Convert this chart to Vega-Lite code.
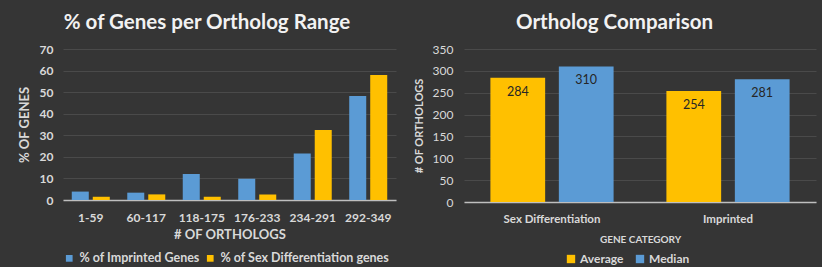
{
  "$schema": "https://vega.github.io/schema/vega-lite/v6.json",
  "background": "#353535",
  "padding": {"left": 18, "top": 12, "right": 6, "bottom": 2},
  "spacing": 17,
  "resolve": {"scale": {"color": "independent", "xOffset": "independent", "x": "independent", "y": "independent"}, "legend": {"color": "independent"}},
  "config": {
    "font": "Lato",
    "view": {"stroke": null},
    "axis": {"labelColor": "#d9d9d9", "titleColor": "#d9d9d9", "gridColor": "#4a4a4a", "domainColor": "#bfbfbf", "ticks": false, "labelFont": "Lato", "titleFont": "Lato"},
    "title": {"color": "#f2f2f2", "font": "Lato", "fontWeight": "bold", "fontSize": 20.5, "anchor": "middle", "frame": "bounds"},
    "legend": {"labelColor": "#d9d9d9", "labelFont": "Lato", "labelFontWeight": "bold", "symbolType": "square", "symbolStrokeWidth": 0, "labelLimit": 300}
  },
  "hconcat": [
    {
      "title": {"text": "% of Genes per Ortholog Range", "offset": 10},
      "width": 333,
      "height": 151,
      "data": {"values": [
        {"range": "1-59", "series": "% of Imprinted Genes", "value": 3.9},
        {"range": "1-59", "series": "% of Sex Differentiation genes", "value": 1.5},
        {"range": "60-117", "series": "% of Imprinted Genes", "value": 3.4},
        {"range": "60-117", "series": "% of Sex Differentiation genes", "value": 2.6},
        {"range": "118-175", "series": "% of Imprinted Genes", "value": 12.1},
        {"range": "118-175", "series": "% of Sex Differentiation genes", "value": 1.5},
        {"range": "176-233", "series": "% of Imprinted Genes", "value": 9.8},
        {"range": "176-233", "series": "% of Sex Differentiation genes", "value": 2.6},
        {"range": "234-291", "series": "% of Imprinted Genes", "value": 21.5},
        {"range": "234-291", "series": "% of Sex Differentiation genes", "value": 32.5},
        {"range": "292-349", "series": "% of Imprinted Genes", "value": 48.2},
        {"range": "292-349", "series": "% of Sex Differentiation genes", "value": 58}
      ]},
      "mark": {"type": "bar"},
      "encoding": {
        "x": {"field": "range", "type": "nominal", "sort": ["1-59", "60-117", "118-175", "176-233", "234-291", "292-349"],
              "scale": {"paddingInner": 0.315, "paddingOuter": 0.158},
              "axis": {"title": "# OF ORTHOLOGS", "labelAngle": 0, "labelFontSize": 12, "labelFontWeight": "bold", "titleFontSize": 13, "titleFontWeight": "bold", "grid": false, "domainWidth": 1.5, "labelPadding": 12, "titlePadding": 5}},
        "xOffset": {"field": "series", "type": "nominal", "sort": ["% of Imprinted Genes", "% of Sex Differentiation genes"], "scale": {"paddingInner": 0.19}},
        "y": {"field": "value", "type": "quantitative", "scale": {"domain": [0, 70]},
              "axis": {"title": "% OF GENES", "values": [0, 10, 20, 30, 40, 50, 60, 70], "domain": false, "labelFontSize": 12, "labelFontWeight": "bold", "labelPadding": 10, "titleFontSize": 13, "titleFontWeight": "bold", "titlePadding": 8}},
        "color": {"field": "series", "type": "nominal", "sort": ["% of Imprinted Genes", "% of Sex Differentiation genes"],
                  "scale": {"domain": ["% of Imprinted Genes", "% of Sex Differentiation genes"], "range": ["#5b9bd5", "#ffc000"]},
                  "legend": {"orient": "bottom", "direction": "horizontal", "title": null, "labelFontSize": 12.5, "symbolSize": 45, "columnPadding": 4, "labelOffset": 4, "offset": 11}}
      }
    },
    {
      "title": {"text": "Ortholog Comparison", "offset": 10},
      "width": 352,
      "height": 153,
      "data": {"values": [
        {"category": "Sex Differentiation", "stat": "Average", "value": 284},
        {"category": "Sex Differentiation", "stat": "Median", "value": 310},
        {"category": "Imprinted", "stat": "Average", "value": 254},
        {"category": "Imprinted", "stat": "Median", "value": 281}
      ]},
      "encoding": {
        "x": {"field": "category", "type": "nominal", "sort": ["Sex Differentiation", "Imprinted"],
              "scale": {"paddingInner": 0.3, "paddingOuter": 0.15},
              "axis": {"title": "GENE CATEGORY", "labelAngle": 0, "labelFontSize": 11.5, "labelFontWeight": "bold", "titleFontSize": 10, "titleFontWeight": "bold", "grid": false, "domainWidth": 1.5, "labelPadding": 11, "titlePadding": 10}},
        "xOffset": {"field": "stat", "type": "nominal", "sort": ["Average", "Median"], "scale": {"paddingInner": 0.2}},
        "y": {"field": "value", "type": "quantitative", "scale": {"domain": [0, 350]},
              "axis": {"title": "# OF ORTHOLOGS", "values": [0, 50, 100, 150, 200, 250, 300, 350], "domain": false, "labelFontSize": 12, "labelPadding": 11, "titleFontSize": 11, "titleFontWeight": "bold", "titlePadding": 8}}
      },
      "layer": [
        {
          "mark": {"type": "bar"},
          "encoding": {
            "color": {"field": "stat", "type": "nominal", "sort": ["Average", "Median"],
                      "scale": {"domain": ["Average", "Median"], "range": ["#ffc000", "#5b9bd5"]},
                      "legend": {"orient": "none", "legendX": 101, "legendY": 204, "direction": "horizontal", "title": null, "labelFontSize": 12, "symbolSize": 70, "columnPadding": 10, "labelOffset": 3}}
          }
        },
        {
          "mark": {"type": "text", "baseline": "top", "dy": 8, "color": "#262626", "fontSize": 12.5},
          "encoding": {"text": {"field": "value", "type": "quantitative"}}
        }
      ]
    }
  ]
}
